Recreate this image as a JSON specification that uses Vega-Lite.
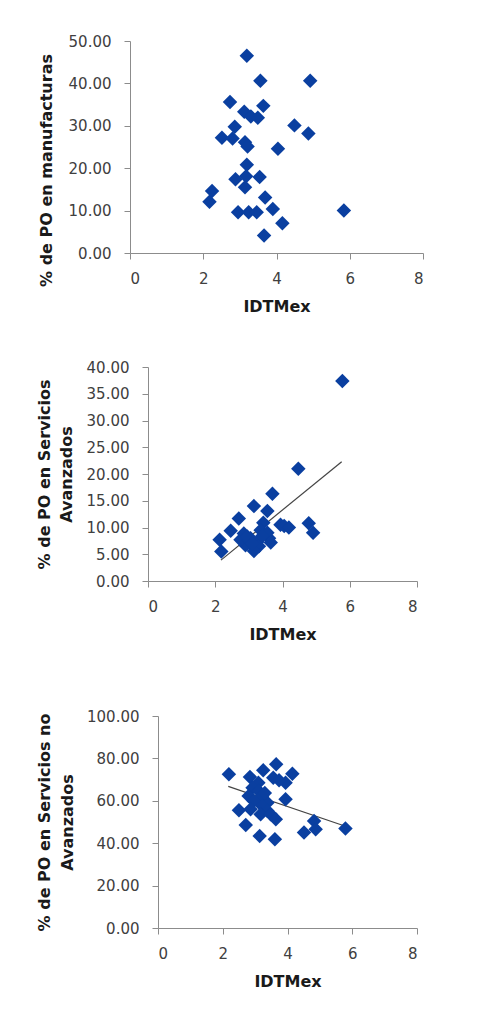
{
  "$schema": "https://vega.github.io/schema/vega-lite/v6.json",
  "padding": {"left": 36, "top": 34, "right": 5, "bottom": 5},
  "background": "white",
  "datasets": {
    "manuf": [
      {"idt": 3.19, "pct": 46.5}, {"idt": 3.56, "pct": 40.6}, {"idt": 4.92, "pct": 40.6},
      {"idt": 2.73, "pct": 35.6}, {"idt": 3.64, "pct": 34.7}, {"idt": 3.12, "pct": 33.3},
      {"idt": 3.30, "pct": 32.2}, {"idt": 3.49, "pct": 31.9}, {"idt": 2.86, "pct": 29.8},
      {"idt": 4.49, "pct": 30.1}, {"idt": 4.87, "pct": 28.2}, {"idt": 2.51, "pct": 27.2},
      {"idt": 2.80, "pct": 27.0}, {"idt": 3.14, "pct": 26.1}, {"idt": 3.21, "pct": 25.1},
      {"idt": 4.04, "pct": 24.6}, {"idt": 3.19, "pct": 20.8}, {"idt": 2.88, "pct": 17.4},
      {"idt": 3.17, "pct": 18.1}, {"idt": 3.54, "pct": 17.9}, {"idt": 3.14, "pct": 15.5},
      {"idt": 2.24, "pct": 14.6}, {"idt": 2.17, "pct": 12.1}, {"idt": 3.69, "pct": 13.1},
      {"idt": 3.90, "pct": 10.4}, {"idt": 2.95, "pct": 9.6}, {"idt": 3.24, "pct": 9.6},
      {"idt": 3.46, "pct": 9.6}, {"idt": 5.84, "pct": 10.0}, {"idt": 4.16, "pct": 7.0},
      {"idt": 3.66, "pct": 4.1}
    ],
    "sa": [
      {"idt": 5.78, "pct": 37.4}, {"idt": 4.47, "pct": 21.0}, {"idt": 3.70, "pct": 16.3},
      {"idt": 3.15, "pct": 14.0}, {"idt": 3.55, "pct": 13.1}, {"idt": 2.70, "pct": 11.7},
      {"idt": 3.43, "pct": 10.9}, {"idt": 3.94, "pct": 10.5}, {"idt": 4.05, "pct": 10.3},
      {"idt": 4.19, "pct": 10.0}, {"idt": 4.78, "pct": 10.8}, {"idt": 4.91, "pct": 9.0},
      {"idt": 2.46, "pct": 9.4}, {"idt": 2.13, "pct": 7.7}, {"idt": 2.18, "pct": 5.5},
      {"idt": 2.85, "pct": 8.9}, {"idt": 3.05, "pct": 8.0}, {"idt": 3.20, "pct": 6.1},
      {"idt": 2.90, "pct": 6.7}, {"idt": 3.35, "pct": 9.5}, {"idt": 3.60, "pct": 8.0},
      {"idt": 3.55, "pct": 9.0}, {"idt": 3.25, "pct": 7.3}, {"idt": 2.75, "pct": 7.7},
      {"idt": 3.30, "pct": 6.5}, {"idt": 3.00, "pct": 7.6}, {"idt": 3.65, "pct": 7.2},
      {"idt": 2.95, "pct": 8.3}, {"idt": 3.40, "pct": 8.4}, {"idt": 3.15, "pct": 5.6},
      {"idt": 3.10, "pct": 7.0}
    ],
    "sna": [
      {"idt": 2.19, "pct": 72.5}, {"idt": 3.65, "pct": 77.2}, {"idt": 3.25, "pct": 74.4},
      {"idt": 4.15, "pct": 72.8}, {"idt": 2.84, "pct": 71.2}, {"idt": 3.56, "pct": 70.9},
      {"idt": 3.10, "pct": 68.5}, {"idt": 3.94, "pct": 68.5}, {"idt": 3.74, "pct": 69.7},
      {"idt": 2.92, "pct": 66.2}, {"idt": 3.11, "pct": 64.6}, {"idt": 2.80, "pct": 62.3},
      {"idt": 3.22, "pct": 62.3}, {"idt": 3.94, "pct": 60.7}, {"idt": 2.96, "pct": 59.9},
      {"idt": 3.38, "pct": 59.1}, {"idt": 3.22, "pct": 57.5}, {"idt": 2.50, "pct": 55.5},
      {"idt": 2.86, "pct": 56.0}, {"idt": 3.38, "pct": 55.2}, {"idt": 3.17, "pct": 53.6},
      {"idt": 3.48, "pct": 53.6}, {"idt": 3.64, "pct": 51.3}, {"idt": 4.82, "pct": 50.5},
      {"idt": 4.87, "pct": 46.6}, {"idt": 2.71, "pct": 48.6}, {"idt": 4.51, "pct": 45.0},
      {"idt": 3.14, "pct": 43.4}, {"idt": 3.61, "pct": 41.9}, {"idt": 5.79, "pct": 46.9},
      {"idt": 3.30, "pct": 63.7}
    ],
    "tl2": [{"idt": 2.17, "pct": 3.9}, {"idt": 5.76, "pct": 22.3}],
    "tl3": [{"idt": 2.17, "pct": 66.8}, {"idt": 5.79, "pct": 48.0}]
  },
  "vconcat": [
    {
      "width": 293, "height": 212,
      "data": {"name": "manuf"},
      "mark": {"type": "point", "shape": "diamond", "filled": true, "size": 210, "color": "#0a3fa0", "opacity": 1},
      "encoding": {
        "x": {"field": "idt", "type": "quantitative", "scale": {"domain": [0, 8], "nice": false}, "axis": {"values": [0, 2, 4, 6, 8], "format": "d", "title": "IDTMex"}},
        "y": {"field": "pct", "type": "quantitative", "scale": {"domain": [0, 50], "nice": false}, "axis": {"values": [0, 10, 20, 30, 40, 50], "format": ".2f", "title": "% de PO en manufacturas", "titlePadding": 14, "titleY": 129}}
      }
    },
    {
      "width": 287, "height": 214,
      "encoding": {
        "x": {"field": "idt", "type": "quantitative", "scale": {"domain": [0, 8], "nice": false, "range": [18, 287]}, "axis": {"values": [0, 2, 4, 6, 8], "format": "d", "title": "IDTMex"}},
        "y": {"field": "pct", "type": "quantitative", "scale": {"domain": [0, 40], "nice": false}, "axis": {"values": [0, 5, 10, 15, 20, 25, 30, 35, 40], "format": ".2f", "title": ["% de PO en Servicios", "Avanzados"], "titleLineHeight": 22, "titlePadding": 12, "offset": -18}}
      },
      "layer": [
        {
          "data": {"name": "tl2"},
          "mark": {"type": "line", "color": "#444444", "strokeWidth": 1.2}
        },
        {
          "data": {"name": "sa"},
          "mark": {"type": "point", "shape": "diamond", "filled": true, "size": 210, "color": "#0a3fa0", "opacity": 1}
        }
      ]
    },
    {
      "width": 287, "height": 240,
      "encoding": {
        "x": {"field": "idt", "type": "quantitative", "scale": {"domain": [0, 8], "nice": false, "range": [28, 287]}, "axis": {"values": [0, 2, 4, 6, 8], "format": "d", "title": "IDTMex"}},
        "y": {"field": "pct", "type": "quantitative", "scale": {"domain": [0, 100], "nice": false, "range": [240, 28]}, "axis": {"values": [0, 20, 40, 60, 80, 100], "format": ".2f", "title": ["% de PO en Servicios no", "Avanzados"], "titleLineHeight": 23, "titlePadding": 11, "offset": -28}}
      },
      "layer": [
        {
          "data": {"name": "tl3"},
          "mark": {"type": "line", "color": "#444444", "strokeWidth": 1.2}
        },
        {
          "data": {"name": "sna"},
          "mark": {"type": "point", "shape": "diamond", "filled": true, "size": 210, "color": "#0a3fa0", "opacity": 1}
        }
      ]
    }
  ],
  "spacing": 46,
  "config": {
    "font": "DejaVu Sans",
    "view": {"stroke": null},
    "axis": {
      "grid": false,
      "domainColor": "#8c8c8c",
      "tickColor": "#8c8c8c",
      "tickSize": 6,
      "labelFontSize": 15,
      "labelColor": "#404040",
      "labelPadding": 13,
      "labelOverlap": false,
      "titleFontSize": 16,
      "titleFontWeight": "bold",
      "titleColor": "#1a1a1a"
    },
    "axisX": {"labelPadding": 12, "titlePadding": 12}
  }
}
